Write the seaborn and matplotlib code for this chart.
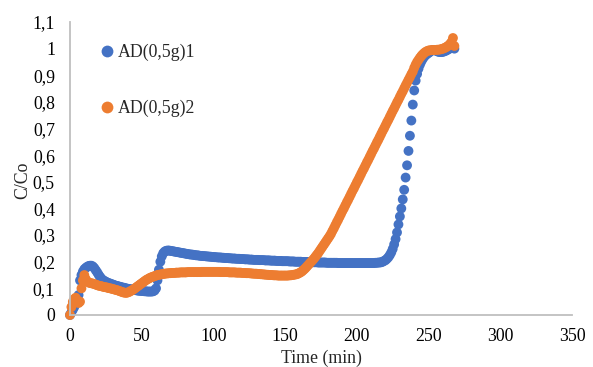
import pandas as pd
import seaborn as sns
import matplotlib.pyplot as plt

# time (min), one reading per minute
time_min = [
    0, 1, 2, 3, 4, 5, 6, 7, 8, 9, 10, 11, 12, 13, 14, 15, 16, 17, 18, 19,
    20, 21, 22, 23, 24, 25, 26, 27, 28, 29, 30, 31, 32, 33, 34, 35, 36, 37, 38, 39,
    40, 41, 42, 43, 44, 45, 46, 47, 48, 49, 50, 51, 52, 53, 54, 55, 56, 57, 58, 59,
    60, 61, 62, 63, 64, 65, 66, 67, 68, 69, 70, 71, 72, 73, 74, 75, 76, 77, 78, 79,
    80, 81, 82, 83, 84, 85, 86, 87, 88, 89, 90, 91, 92, 93, 94, 95, 96, 97, 98, 99,
    100, 101, 102, 103, 104, 105, 106, 107, 108, 109, 110, 111, 112, 113, 114, 115, 116, 117, 118, 119,
    120, 121, 122, 123, 124, 125, 126, 127, 128, 129, 130, 131, 132, 133, 134, 135, 136, 137, 138, 139,
    140, 141, 142, 143, 144, 145, 146, 147, 148, 149, 150, 151, 152, 153, 154, 155, 156, 157, 158, 159,
    160, 161, 162, 163, 164, 165, 166, 167, 168, 169, 170, 171, 172, 173, 174, 175, 176, 177, 178, 179,
    180, 181, 182, 183, 184, 185, 186, 187, 188, 189, 190, 191, 192, 193, 194, 195, 196, 197, 198, 199,
    200, 201, 202, 203, 204, 205, 206, 207, 208, 209, 210, 211, 212, 213, 214, 215, 216, 217, 218, 219,
    220, 221, 222, 223, 224, 225, 226, 227, 228, 229, 230, 231, 232, 233, 234, 235, 236, 237, 238, 239,
    240, 241, 242, 243, 244, 245, 246, 247, 248, 249, 250, 251, 252, 253, 254, 255, 256, 257, 258, 259,
    260, 261, 262, 263, 264, 265, 266, 267, 268,
]

# C/Co, sample AD(0,5g)1
ad1 = [
    0.000, 0.010, 0.020, 0.030, 0.045, 0.060, 0.075, 0.130, 0.150, 0.163,
    0.172, 0.177, 0.181, 0.184, 0.185, 0.185, 0.182, 0.176, 0.168, 0.160,
    0.151, 0.143, 0.136, 0.131, 0.128, 0.125, 0.122, 0.120, 0.118, 0.116,
    0.114, 0.112, 0.110, 0.109, 0.107, 0.106, 0.104, 0.103, 0.102, 0.100,
    0.099, 0.098, 0.097, 0.096, 0.095, 0.094, 0.093, 0.092, 0.091, 0.091,
    0.090, 0.090, 0.089, 0.089, 0.088, 0.088, 0.088, 0.088, 0.089, 0.092,
    0.100, 0.130, 0.170, 0.200, 0.220, 0.232, 0.238, 0.241, 0.242, 0.242,
    0.241, 0.240, 0.239, 0.238, 0.237, 0.236, 0.235, 0.234, 0.233, 0.232,
    0.231, 0.230, 0.229, 0.228, 0.227, 0.227, 0.226, 0.225, 0.224, 0.224,
    0.223, 0.222, 0.222, 0.221, 0.221, 0.220, 0.220, 0.219, 0.219, 0.218,
    0.218, 0.217, 0.217, 0.216, 0.216, 0.216, 0.215, 0.215, 0.214, 0.214,
    0.214, 0.213, 0.213, 0.212, 0.212, 0.212, 0.211, 0.211, 0.211, 0.210,
    0.210, 0.210, 0.209, 0.209, 0.209, 0.208, 0.208, 0.208, 0.207, 0.207,
    0.207, 0.207, 0.206, 0.206, 0.206, 0.206, 0.205, 0.205, 0.205, 0.205,
    0.204, 0.204, 0.204, 0.204, 0.203, 0.203, 0.203, 0.203, 0.202, 0.202,
    0.202, 0.202, 0.202, 0.201, 0.201, 0.201, 0.201, 0.200, 0.200, 0.200,
    0.200, 0.200, 0.199, 0.199, 0.199, 0.199, 0.199, 0.198, 0.198, 0.198,
    0.198, 0.198, 0.198, 0.197, 0.197, 0.197, 0.197, 0.197, 0.197, 0.196,
    0.196, 0.196, 0.196, 0.196, 0.196, 0.196, 0.196, 0.195, 0.195, 0.195,
    0.195, 0.195, 0.195, 0.195, 0.195, 0.195, 0.195, 0.195, 0.195, 0.195,
    0.195, 0.195, 0.195, 0.195, 0.195, 0.195, 0.195, 0.195, 0.195, 0.195,
    0.195, 0.195, 0.195, 0.196, 0.196, 0.197, 0.197, 0.198, 0.200, 0.203,
    0.206, 0.211, 0.217, 0.225, 0.235, 0.248, 0.265, 0.285, 0.310, 0.340,
    0.370, 0.400, 0.434, 0.470, 0.516, 0.562, 0.616, 0.673, 0.730, 0.790,
    0.843, 0.880, 0.905, 0.925, 0.940, 0.952, 0.962, 0.970, 0.976, 0.980,
    0.984, 0.988, 0.992, 0.995, 0.995, 0.993, 0.990, 0.988, 0.987, 0.987,
    0.988, 0.990, 0.992, 0.995, 0.998, 1.002, 1.005, 1.008, 1.000,
]

# C/Co, sample AD(0,5g)2
ad2 = [
    0.000, 0.030, 0.050, 0.060, 0.065, 0.055, 0.045, 0.050, 0.100, 0.130,
    0.150, 0.135, 0.126, 0.122, 0.120, 0.119, 0.118, 0.116, 0.114, 0.112,
    0.110, 0.109, 0.108, 0.106, 0.105, 0.104, 0.103, 0.101, 0.100, 0.099,
    0.097, 0.096, 0.094, 0.093, 0.091, 0.089, 0.087, 0.085, 0.084, 0.083,
    0.084, 0.086, 0.089, 0.092, 0.095, 0.099, 0.103, 0.107, 0.111, 0.115,
    0.119, 0.123, 0.127, 0.131, 0.134, 0.137, 0.140, 0.142, 0.144, 0.146,
    0.148, 0.150, 0.151, 0.152, 0.153, 0.154, 0.155, 0.156, 0.156, 0.157,
    0.157, 0.158, 0.158, 0.158, 0.159, 0.159, 0.159, 0.160, 0.160, 0.160,
    0.160, 0.160, 0.161, 0.161, 0.161, 0.161, 0.161, 0.161, 0.161, 0.161,
    0.161, 0.161, 0.162, 0.162, 0.162, 0.162, 0.162, 0.162, 0.162, 0.162,
    0.162, 0.162, 0.162, 0.162, 0.162, 0.161, 0.161, 0.161, 0.161, 0.161,
    0.161, 0.160, 0.160, 0.160, 0.160, 0.160, 0.159, 0.159, 0.159, 0.159,
    0.158, 0.158, 0.158, 0.157, 0.157, 0.157, 0.156, 0.156, 0.155, 0.155,
    0.155, 0.154, 0.154, 0.153, 0.153, 0.152, 0.152, 0.151, 0.151, 0.150,
    0.150, 0.150, 0.149, 0.149, 0.149, 0.148, 0.148, 0.148, 0.148, 0.148,
    0.148, 0.148, 0.148, 0.149, 0.149, 0.150, 0.151, 0.152, 0.153, 0.155,
    0.158, 0.161, 0.165, 0.170, 0.175, 0.181, 0.187, 0.193, 0.199, 0.205,
    0.211, 0.218, 0.225, 0.232, 0.240, 0.248, 0.256, 0.264, 0.272, 0.280,
    0.288, 0.296, 0.305, 0.316, 0.326, 0.337, 0.348, 0.358, 0.369, 0.380,
    0.391, 0.401, 0.412, 0.423, 0.433, 0.444, 0.455, 0.466, 0.476, 0.487,
    0.498, 0.508, 0.519, 0.530, 0.541, 0.551, 0.562, 0.573, 0.583, 0.594,
    0.605, 0.616, 0.626, 0.637, 0.648, 0.658, 0.669, 0.680, 0.691, 0.701,
    0.712, 0.723, 0.733, 0.744, 0.755, 0.766, 0.776, 0.787, 0.798, 0.808,
    0.819, 0.830, 0.840, 0.851, 0.862, 0.872, 0.883, 0.893, 0.904, 0.914,
    0.928, 0.940, 0.950, 0.958, 0.966, 0.973, 0.979, 0.984, 0.988, 0.991,
    0.993, 0.994, 0.994, 0.995, 0.995, 0.995, 0.996, 0.996, 0.997, 0.998,
    1.000, 1.002, 1.005, 1.008, 1.012, 1.018, 1.025, 1.040, 1.010,
]

labels = ['AD(0,5g)1', 'AD(0,5g)2']
colors = ['#4472C4', '#ED7D31']
x_ticks = [0, 50, 100, 150, 200, 250, 300, 350]
y_ticks = [0, 0.1, 0.2, 0.3, 0.4, 0.5, 0.6, 0.7, 0.8, 0.9, 1.0, 1.1]
y_tick_labels = ['0', '0,1', '0,2', '0,3', '0,4', '0,5', '0,6', '0,7', '0,8', '0,9', '1', '1,1']

# long-form table for seaborn
df = pd.concat([
    pd.DataFrame({'Time': time_min, 'CCo': ad1, 'Sample': labels[0]}),
    pd.DataFrame({'Time': time_min, 'CCo': ad2, 'Sample': labels[1]}),
], ignore_index=True)

sns.set_theme(style='white')
plt.rcParams['font.family'] = ['Liberation Serif', 'DejaVu Serif']

fig = plt.figure(figsize=(5.93, 3.67), dpi=100)
ax = fig.add_axes([0.118, 0.1417, 0.8466, 0.7983])

sns.scatterplot(data=df, x='Time', y='CCo', hue='Sample', hue_order=labels,
                palette=dict(zip(labels, colors)), s=50, linewidth=0,
                clip_on=False, ax=ax)

ax.set_xlim(0, 350)
ax.set_ylim(0, 1.1)
ax.set_xticks(x_ticks)
ax.set_xticklabels([str(t) for t in x_ticks])
ax.set_yticks(y_ticks)
ax.set_yticklabels(y_tick_labels)
ax.tick_params(axis='both', length=0, labelsize=12.8, colors='black')
ax.tick_params(axis='y', pad=10.8)
ax.tick_params(axis='x', pad=9.5)

for side in ['top', 'right']:
    ax.spines[side].set_visible(False)
for side in ['left', 'bottom']:
    ax.spines[side].set_color('#BFBFBF')
    ax.spines[side].set_linewidth(1.3)

ax.set_xlabel('Time (min)', fontsize=12.8)
ax.set_ylabel('C/Co', fontsize=12.8)
ax.xaxis.set_label_coords(0.5, -0.12)
ax.yaxis.set_label_coords(-0.0777, 0.46)

handles, lbls = ax.get_legend_handles_labels()
ax.legend(handles, lbls, loc='upper left', bbox_to_anchor=(0.059, 0.925),
          frameon=False, fontsize=12.8, labelspacing=2.15, handlelength=0.8,
          handletextpad=0.2, borderpad=0, borderaxespad=0, markerscale=1.2)

fig.savefig('out.png', dpi=100)
